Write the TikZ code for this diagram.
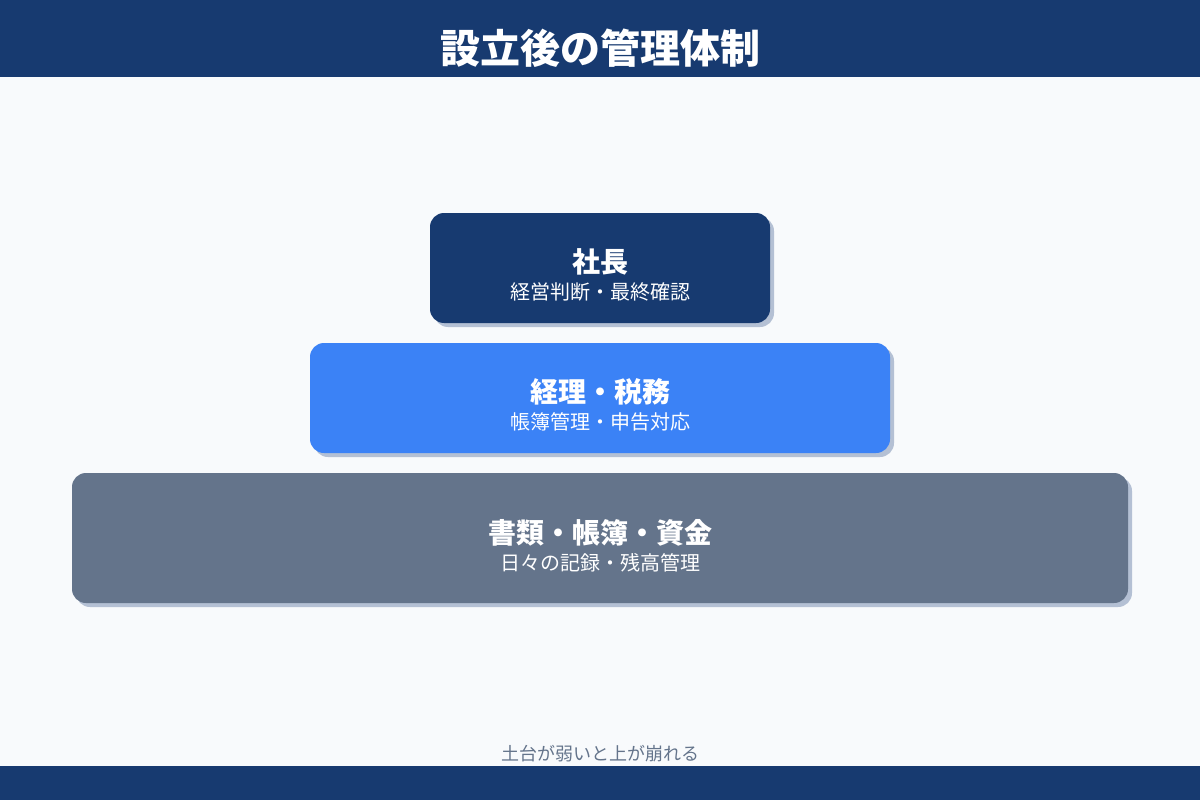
\documentclass[tikz,border=0pt]{standalone}
\usepackage{fontspec}
\usepackage{xcolor}
\usepackage{tikz}
\usetikzlibrary{shadows}
\newfontfamily\cjk{Noto Sans CJK JP}
\definecolor{navy}{HTML}{173A70}
\definecolor{bluebox}{HTML}{3B82F6}
\definecolor{slatebox}{HTML}{64748B}
\definecolor{shadowgray}{HTML}{B4C0D4}
\definecolor{paper}{HTML}{F8FAFC}

\begin{document}
\begin{tikzpicture}[x=1pt,y=-1pt,
    tier/.style={rounded corners=14pt,inner sep=0pt,
      drop shadow={shadow xshift=4pt,shadow yshift=-4pt,fill=shadowgray,opacity=1}},
    head/.style={anchor=base,text=white,font=\cjk\bfseries\fontsize{28}{32}\selectfont,inner sep=0pt},
    sub/.style={anchor=base,text=white,font=\cjk\fontsize{20}{24}\selectfont,inner sep=0pt}]
    \useasboundingbox (0,0) rectangle (1200,800);
    \fill[paper] (0,0) rectangle (1200,800);
    \fill[navy] (0,0) rectangle (1200,77);
    \fill[navy] (0,766) rectangle (1200,800);
    \node[anchor=base,text=white,font=\cjk\bfseries\fontsize{40}{44}\selectfont,inner sep=0pt] (title) at (600,64) {設立後の管理体制};
    % tiers
    \node[tier,fill=navy,minimum width=340pt,minimum height=110pt] (ceo) at (600,268) {};
    \node[head] (ceoh) at (600,272.6) {社長};
    \node[sub] (ceos) at (600,299.6) {経営判断・最終確認};
    \node[tier,fill=bluebox,minimum width=580pt,minimum height=110pt] (acct) at (600,398) {};
    \node[head] (accth) at (600,402.6) {経理・税務};
    \node[sub] (accts) at (600,429.6) {帳簿管理・申告対応};
    \node[tier,fill=slatebox,minimum width=1056pt,minimum height=130pt] (base) at (600,538) {};
    \node[head] (baseh) at (600,543.6) {書類・帳簿・資金};
    \node[sub] (bases) at (600,570) {日々の記録・残高管理};
    \node[anchor=base,text=slatebox,font=\cjk\fontsize{18}{22}\selectfont,inner sep=0pt] (note) at (600,760) {土台が弱いと上が崩れる};
  \end{tikzpicture}
\end{document}
